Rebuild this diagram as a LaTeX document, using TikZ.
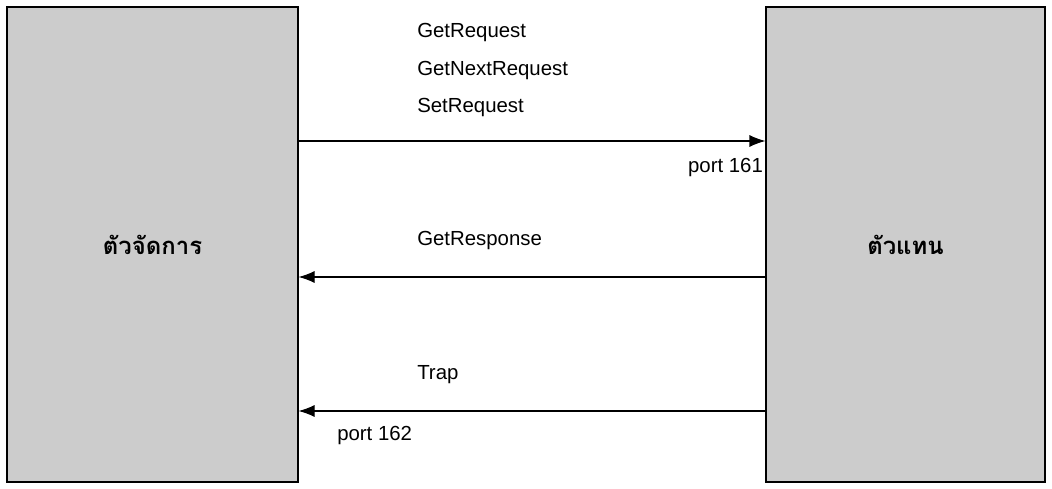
\documentclass[tikz,border=0pt]{standalone}
\usepackage{fontspec}
\setmainfont{Liberation Sans}
\newfontfamily\thaifont[Script=Thai]{Loma}
\usetikzlibrary{arrows.meta}

\tikzset{
  party/.style={draw, thick, fill=black!20,
    minimum height=11.875cm, inner sep=0pt,
    font=\thaifont\bfseries\fontsize{17}{20}\selectfont},
  msg/.style={anchor=west, inner sep=0pt, font=\fontsize{14.5}{17}\selectfont},
  flow/.style={thick, -{Latex[length=4mm,width=3mm]}}
}

\begin{document}
\begin{tikzpicture}
    \useasboundingbox (0,0) rectangle (26.3,12.2);
    % Nodes
    \node[party, minimum width=7.275cm] (mgr) at (3.8125,6.0875) {ตัวจัดการ};
    \node[party, minimum width=6.975cm] (agt) at (22.6375,6.0875) {ตัวแทน};

    \coordinate (req) at (0,8.675);
    \coordinate (resp) at (0,5.275);
    \coordinate (trap) at (0,1.925);

    \node[msg] (getreq) at (10.425,11.4) {GetRequest};
    \node[msg] (getnext) at (10.425,10.45) {GetNextRequest};
    \node[msg] (setreq) at (10.425,9.525) {SetRequest};
    \node[msg, anchor=east] (p161) at (19.08,8.025) {port 161};
    \node[msg] (getresp) at (10.425,6.2) {GetResponse};
    \node[msg] (traplbl) at (10.425,2.825) {Trap};
    \node[msg] (p162) at (8.425,1.325) {port 162};
    % Connection
    \draw[flow] (mgr.east |- req) -- (agt.west |- req);
    \draw[flow] (agt.west |- resp) -- (mgr.east |- resp);
    \draw[flow] (agt.west |- trap) -- (mgr.east |- trap);
\end{tikzpicture}
\end{document}
